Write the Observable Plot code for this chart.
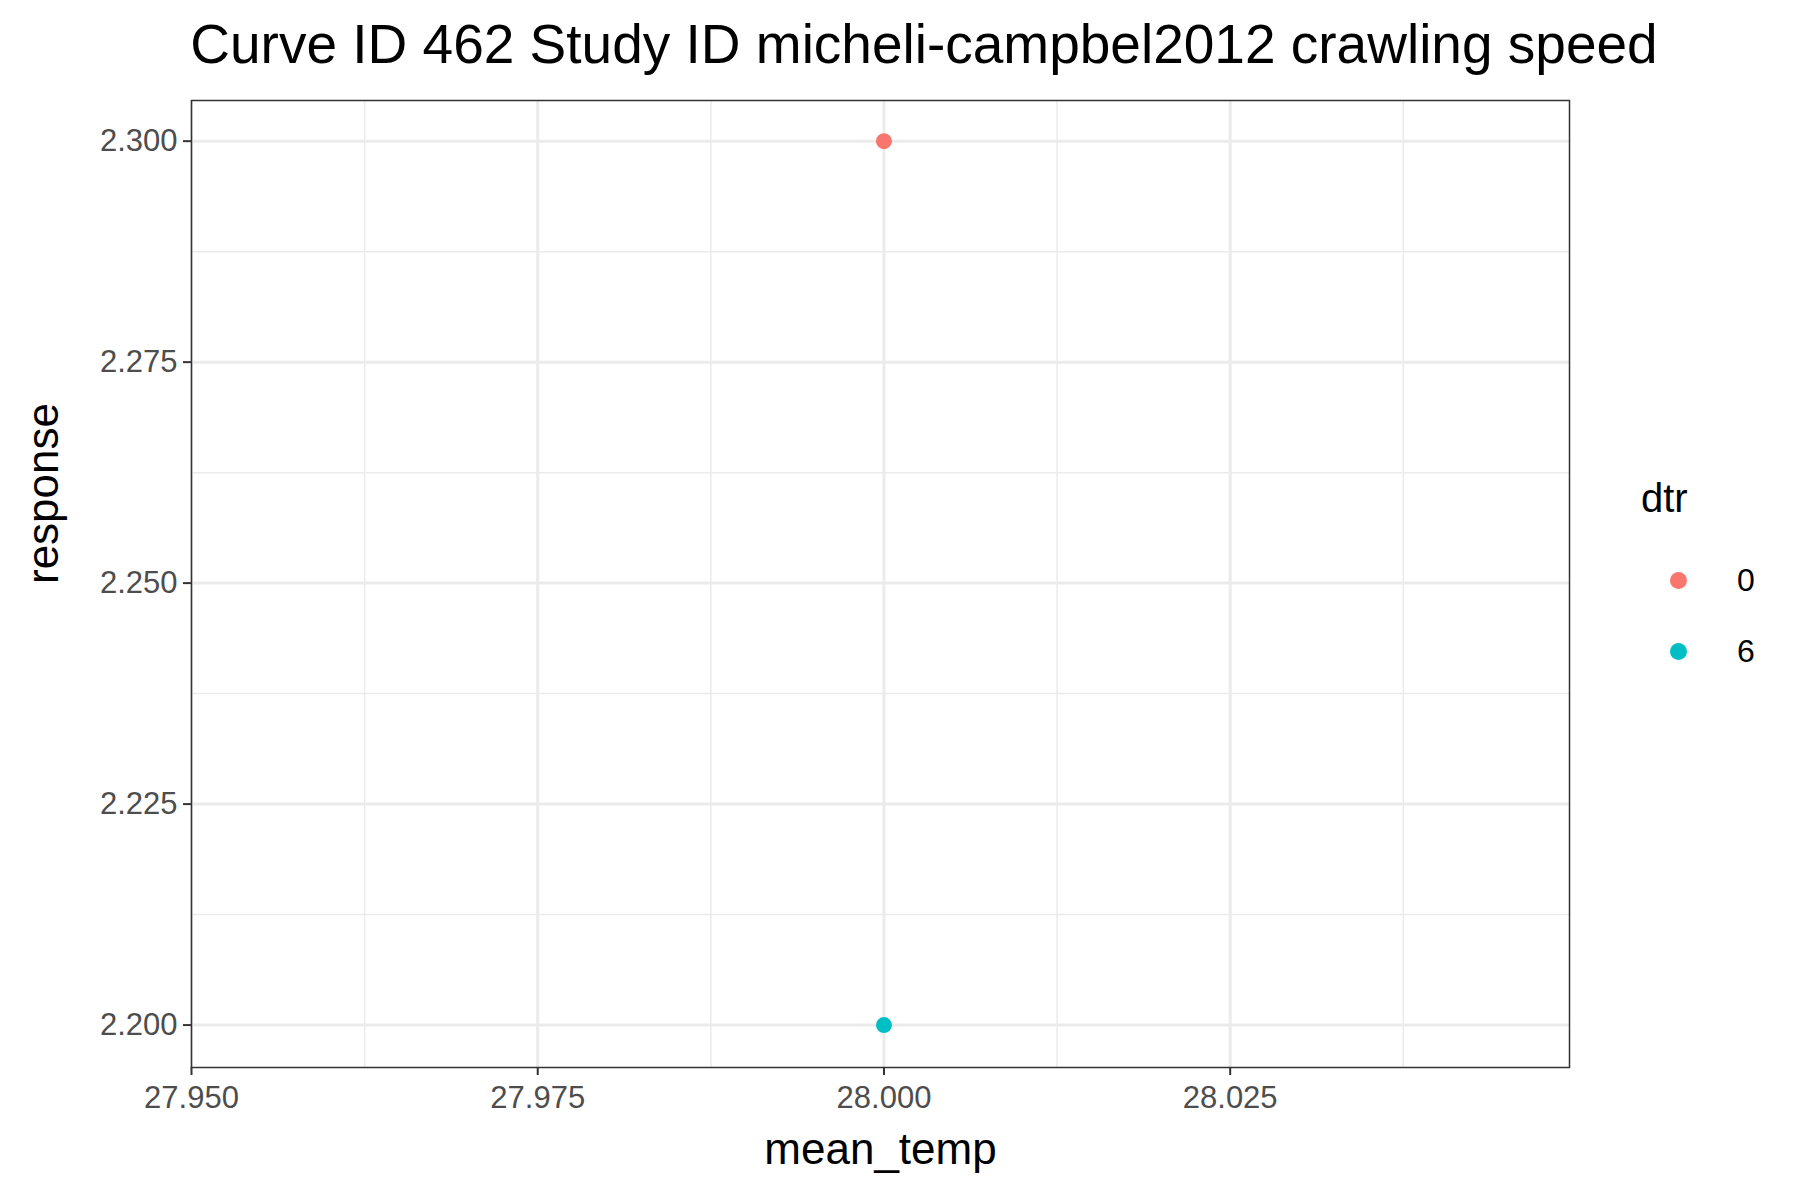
<!DOCTYPE html>
<html>
<head>
<meta charset="utf-8">
<script src="https://cdn.jsdelivr.net/npm/d3@7"></script>
<script src="https://cdn.jsdelivr.net/npm/@observablehq/plot@0.6"></script>
<style>
  body { margin: 0; background: #fff; font-family: "Liberation Sans", Arial, sans-serif; }
  #wrap { position: relative; width: 1800px; height: 1200px; }
  #title { position: absolute; left: 0; top: 12px; width: 1800px; padding-left: 48px; box-sizing: border-box;
           text-align: center; font-size: 55px; color: #000; }
  #chart { position: absolute; left: 0; top: 90px; }
  #legend { position: absolute; left: 1641px; top: 476px; font-size: 40px; }
  .item { position: absolute; font-size: 32px; }
  .dot { position: absolute; width: 17px; height: 17px; border-radius: 50%; left: 29px; }
</style>
</head>
<body>
<div id="wrap">
  <div id="title">Curve ID 462 Study ID micheli-campbel2012 crawling speed</div>
  <div id="chart"></div>
  <div id="legend"></div>
</div>
<script>
const meanTemp = [28.0, 28.0];
const response = [2.3, 2.2];
const dtr = ["0", "6"];
const dtrLevels = ["0", "6"];
const dtrColors = ["#F8766D", "#00BFC4"];
const xTicks = [27.95, 27.975, 28.0, 28.025];
const xMinor = [27.9625, 27.9875, 28.0125, 28.0375];
const yTicks = [2.2, 2.225, 2.25, 2.275, 2.3];
const yMinor = [2.2125, 2.2375, 2.2625, 2.2875];

const data = meanTemp.map((x, i) => ({ mean_temp: x, response: response[i], dtr: dtr[i] }));

const chart = Plot.plot({
  width: 1800,
  height: 1110,
  marginLeft: 191,
  marginRight: 231,
  marginTop: 10,
  marginBottom: 133,
  style: { fontFamily: "Liberation Sans, Arial, sans-serif", background: "#fff" },
  x: { domain: [27.95, 28.0495], label: null },
  y: { domain: [2.1952, 2.3046], label: null },
  color: { domain: dtrLevels, range: dtrColors },
  marks: [
    Plot.ruleX(xMinor, { stroke: "#ebebeb", strokeWidth: 1.5 }),
    Plot.ruleY(yMinor, { stroke: "#ebebeb", strokeWidth: 1.5 }),
    Plot.ruleX(xTicks, { stroke: "#ebebeb", strokeWidth: 3 }),
    Plot.ruleY(yTicks, { stroke: "#ebebeb", strokeWidth: 3 }),
    Plot.frame({ stroke: "#333", strokeWidth: 1.5 }),
    Plot.axisX(xTicks, { tickFormat: d3.format(".3f"), tickSize: 8, tickPadding: 10, fontSize: 31, color: "#4d4d4d", stroke: "#333", strokeWidth: 2 }),
    Plot.axisY(yTicks, { tickFormat: d3.format(".3f"), tickSize: 8, tickPadding: 6, fontSize: 31, color: "#4d4d4d", stroke: "#333", strokeWidth: 2 }),
    Plot.text(["mean_temp"], { frameAnchor: "bottom", dy: 96, fontSize: 44, fill: "#000" }),
    Plot.text(["response"], { frameAnchor: "left", dx: -148, rotate: -90, fontSize: 44, fill: "#000" }),
    Plot.dot(data, { x: "mean_temp", y: "response", fill: "dtr", r: 8 })
  ]
});
document.getElementById("chart").append(chart);

const legend = document.getElementById("legend");
legend.innerHTML = `<div style="position:absolute;left:0;top:0">dtr</div>` +
  dtrLevels.map((d, i) =>
    `<div class="dot" style="top:${96 + i * 71}px;background:${dtrColors[i]}"></div>` +
    `<div class="item" style="left:96px;top:${86 + i * 71}px">${d}</div>`).join("");
</script>
</body>
</html>
